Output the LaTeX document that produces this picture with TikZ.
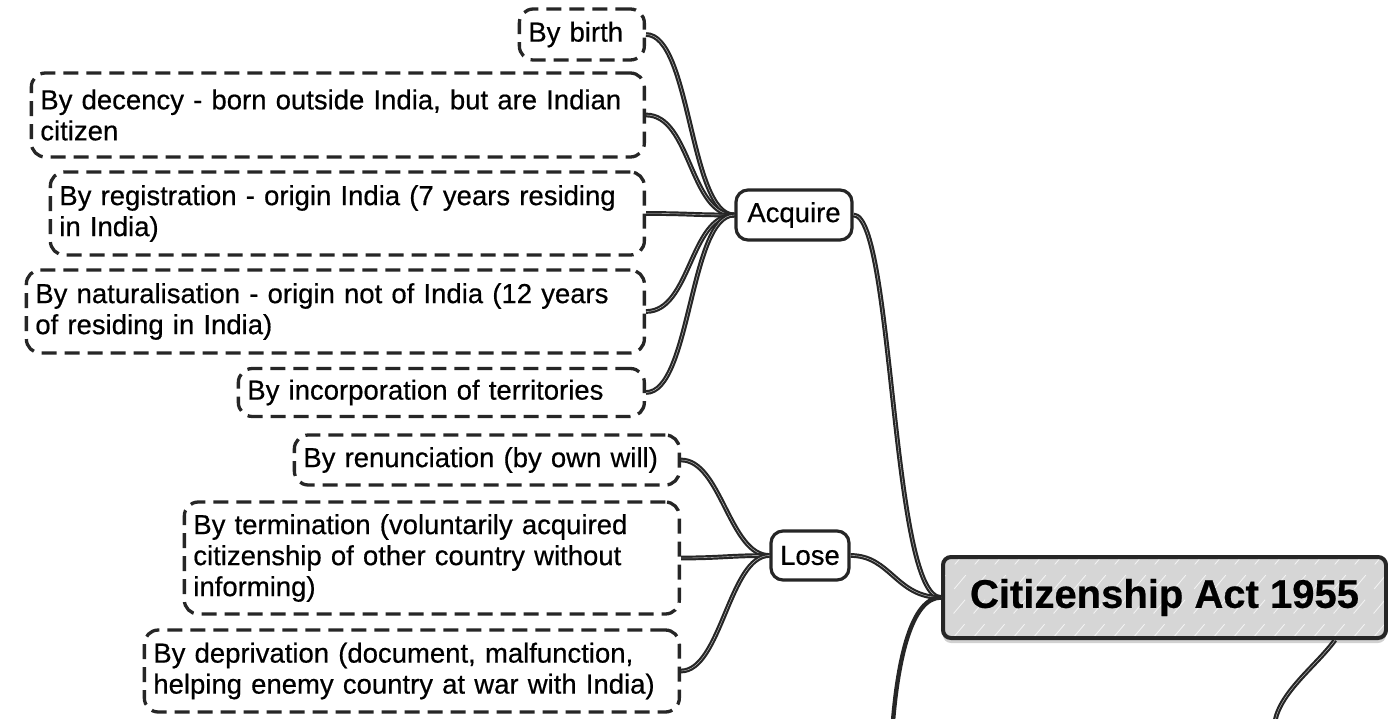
\documentclass[tikz,border=0pt]{standalone}
\usepackage{fontspec}
\setmainfont{Liberation Sans}[FakeBold=0.5]
\usetikzlibrary{shadows}

\definecolor{ink}{HTML}{262626}
\definecolor{rootgray}{HTML}{D6D6D6}

\tikzset{
  x=1pt, y=-1pt,
  leaf/.style={draw=ink, line width=3.3pt, dash pattern=on 15pt off 8pt,
    rounded corners=14pt, fill=white, align=left, anchor=east,
    inner xsep=9pt, inner ysep=0pt, text=black,
    font=\fontsize{27.5}{31}\selectfont},
  branch/.style={draw=ink, line width=3.2pt, rounded corners=12pt, fill=white,
    inner sep=0pt, text=black, font=\fontsize{27.5}{31}\selectfont},
  topic/.style={draw=ink, line width=4pt, rounded corners=8pt, fill=rootgray,
    inner sep=0pt, text=black, font=\bfseries\fontsize{40}{44}\selectfont,
    drop shadow={shadow xshift=0pt, shadow yshift=-5pt, fill=black!40, opacity=0.45},
    path picture={
      \foreach \k in {0,...,25} {
        \draw[white, line width=0.8pt, opacity=0.75, dash pattern=on 18pt off 14pt]
          ([xshift=\k*20pt-70pt]path picture bounding box.south west) -- ++(68,-81);
      }
    }},
  link/.style={draw=ink, line width=2.2pt, double=white!85!ink, double distance=0.35pt},
  solidlink/.style={draw=ink, line width=4.4pt},
}

\begin{document}
\begin{tikzpicture}
\useasboundingbox (0,0) rectangle (1388,719);

% central topic and the two branches
\node[topic, minimum width=443pt, minimum height=81pt] (root) at (1164.5,597.5) {Citizenship Act 1955};
\node[branch, minimum width=116pt, minimum height=50pt] (acquire) at (794,215) {Acquire};
\node[branch, minimum width=78pt, minimum height=49pt] (lose) at (810,555.5) {Lose};

% ways of acquiring citizenship
\node[leaf, text width=107pt, minimum height=51pt] (birth) at (646,34.5) {By birth};
\node[leaf, text width=595pt, minimum height=84pt] (decency) at (646,115)
  {By decency - born outside India, but are Indian\\citizen};
\node[leaf, text width=576pt, minimum height=83pt] (registration) at (646,213.5)
  {By registration - origin India (7 years residing\\in India)};
\node[leaf, text width=600pt, minimum height=83pt] (naturalisation) at (646,311.5)
  {By naturalisation - origin not of India (12 years\\of residing in India)};
\node[leaf, text width=388pt, minimum height=48pt] (incorporation) at (646,392.5)
  {By incorporation of territories};

% ways of losing citizenship
\node[leaf, text width=367pt, minimum height=50pt] (renunciation) at (681,460)
  {By renunciation (by own will)};
\node[leaf, text width=477pt, minimum height=112pt] (termination) at (681,558)
  {By termination (voluntarily acquired\\citizenship of other country without\\informing)};
\node[leaf, text width=517pt, minimum height=82pt] (deprivation) at (681,671)
  {By deprivation (document, malfunction,\\helping enemy country at war with India)};

% loose ends of the branches running off below
\coordinate (tailA) at (893,721);
\coordinate (tailB) at (1275,721);

% connectors
\foreach \c in {birth,decency,registration,naturalisation,incorporation}
  \draw[link] (\c.east) .. controls +(45,0) and +(-45,0) .. (acquire.west);
\foreach \c in {renunciation,termination,deprivation}
  \draw[link] (\c.east) .. controls +(40,0) and +(-40,0) .. (lose.west);
\draw[link] (acquire.east) .. controls +(40,0) and +(-50,0) .. (root.west);
\draw[link] (lose.east) .. controls +(40,0) and +(-45,0) .. (root.west);
\draw[solidlink] (root.west) .. controls +(-30,0) and +(5,-60) .. (tailA);
\draw[link] (root.-14.3) .. controls +(-18,25) and +(6,-30) .. (tailB);
\end{tikzpicture}
\end{document}
